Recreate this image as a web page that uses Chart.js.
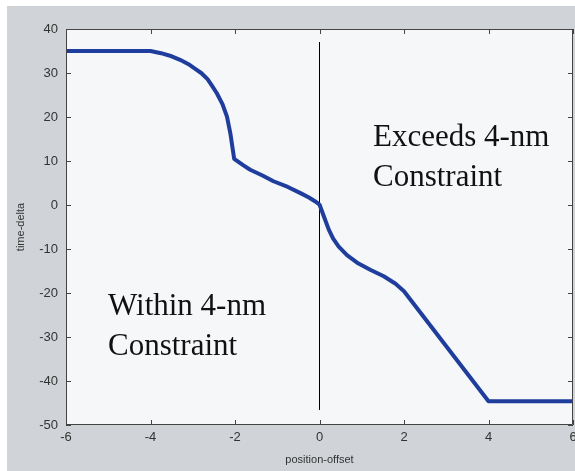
<!DOCTYPE html>
<html>
<head>
<meta charset="utf-8">
<script src="https://cdn.jsdelivr.net/npm/chart.js@4"></script>
<style>
  html, body { margin: 0; padding: 0; background: #fff; }
  #wrap { width: 575px; height: 471px; }
</style>
</head>
<body>
<div id="wrap"><canvas id="chart" width="575" height="471"></canvas></div>
<script>
// curve
const offsetX = [-6, -4, -3.75, -3.5, -3.3, -3.1, -2.95, -2.8, -2.65, -2.55, -2.43, -2.3, -2.19, -2.11, -2.02, -1.8, -1.64, -1.35, -1.09, -0.75, -0.45, -0.25, -0.1, 0.0, 0.1, 0.22, 0.32, 0.45, 0.65, 0.89, 1.2, 1.52, 1.8, 2.0, 4.0, 6];
const deltaY = [35, 35, 34.5, 33.8, 33, 32, 31, 30, 28.6, 27.2, 25.4, 23, 20.1, 16.3, 10.5, 9.0, 8, 6.7, 5.4, 4.1, 2.7, 1.7, 0.8, 0.1, -2.5, -5.6, -7.6, -9.4, -11.4, -13.1, -14.7, -16.2, -17.9, -19.6, -44.6, -44.6];

// the vertical divider at x = 0
const dividerX = [0, 0];
const dividerY = [37, -46.5];

const xTicks = [-6, -4, -2, 0, 2, 4, 6];
const yTicks = [-50, -40, -30, -20, -10, 0, 10, 20, 30, 40];

const notes = [
  { lines: ['Exceeds 4-nm', 'Constraint'], x: 373, y: 146 },
  { lines: ['Within 4-nm', 'Constraint'], x: 108, y: 315 }
];

const curve = offsetX.map((x, i) => ({ x: x, y: deltaY[i] }));
const divider = dividerX.map((x, i) => ({ x: x, y: dividerY[i] }));

// gray figure background, light axes background, inward ticks, notes
const matlabLook = {
  id: 'matlabLook',
  beforeDraw(chart) {
    const { ctx, chartArea: a } = chart;
    ctx.save();
    ctx.fillStyle = '#ffffff';
    ctx.fillRect(0, 0, chart.width, chart.height);
    ctx.fillStyle = '#d0d3d7';
    ctx.fillRect(7, 6, chart.width - 7, chart.height - 6);
    ctx.fillStyle = '#f6f7f8';
    ctx.fillRect(a.left, a.top, a.right - a.left, a.bottom - a.top);
    ctx.restore();
  },
  afterDraw(chart) {
    const { ctx, chartArea: a, scales } = chart;
    ctx.save();
    ctx.strokeStyle = '#444';
    ctx.lineWidth = 1;
    ctx.beginPath();
    ctx.rect(a.left + 0.5, a.top + 0.5, a.right - a.left - 1, a.bottom - a.top - 1);
    ctx.stroke();
    ctx.beginPath();
    xTicks.forEach(v => {
      const px = Math.round(scales.x.getPixelForValue(v)) + 0.5;
      ctx.moveTo(px, a.bottom); ctx.lineTo(px, a.bottom - 5);
      ctx.moveTo(px, a.top); ctx.lineTo(px, a.top + 5);
    });
    yTicks.forEach(v => {
      const py = Math.round(scales.y.getPixelForValue(v)) + 0.5;
      ctx.moveTo(a.left, py); ctx.lineTo(a.left + 5, py);
      ctx.moveTo(a.right, py); ctx.lineTo(a.right - 5, py);
    });
    ctx.stroke();

    ctx.fillStyle = '#111';
    ctx.font = '31px "Liberation Serif", "Times New Roman", serif';
    ctx.textBaseline = 'alphabetic';
    notes.forEach(n => {
      n.lines.forEach((t, i) => ctx.fillText(t, n.x, n.y + i * 40));
    });
    ctx.restore();
  }
};

const tickFont = { family: '"Liberation Sans", Arial, sans-serif', size: 13 };
const titleFont = { family: '"Liberation Sans", Arial, sans-serif', size: 11 };

new Chart(document.getElementById('chart'), {
  type: 'line',
  data: {
    datasets: [
      {
        data: curve,
        borderColor: '#1f3d9c',
        borderWidth: 4,
        pointRadius: 0,
        tension: 0,
        borderJoinStyle: 'round'
      },
      {
        data: divider,
        borderColor: '#000',
        borderWidth: 1,
        pointRadius: 0
      }
    ]
  },
  options: {
    responsive: false,
    animation: false,
    layout: { padding: { top: 29, right: 2, left: 0, bottom: 0 } },
    plugins: { legend: { display: false }, tooltip: { enabled: false } },
    scales: {
      x: {
        type: 'linear',
        min: -6, max: 6,
        afterBuildTicks: s => { s.ticks = xTicks.map(v => ({ value: v })); },
        afterFit: s => { s.height = 46; s.paddingLeft = 0; s.paddingRight = 0; },
        grid: { display: false, drawTicks: false, tickLength: 0 },
        border: { display: false },
        ticks: { color: '#333', padding: 5, maxRotation: 0, font: tickFont },
        title: { display: true, text: 'position-offset', color: '#333', padding: { top: 0, bottom: 4 }, font: titleFont }
      },
      y: {
        min: -50, max: 40,
        afterBuildTicks: s => { s.ticks = yTicks.map(v => ({ value: v })); },
        afterFit: s => { s.width = 66; s.paddingTop = 0; s.paddingBottom = 0; },
        grid: { display: false, drawTicks: false, tickLength: 0 },
        border: { display: false },
        ticks: { color: '#333', padding: 8, font: tickFont },
        title: { display: true, text: 'time-delta', color: '#333', padding: { top: 14, bottom: 0 }, font: titleFont }
      }
    }
  },
  plugins: [matlabLook]
});
</script>
</body>
</html>
